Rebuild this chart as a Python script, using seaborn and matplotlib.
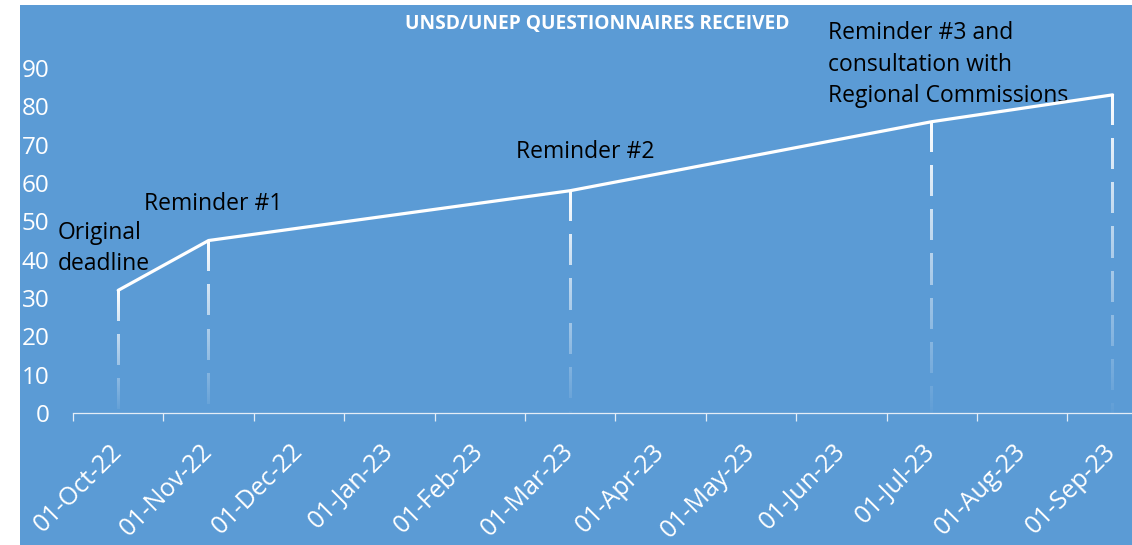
import matplotlib.pyplot as plt
import matplotlib.patches as mpatches
import numpy as np
import pandas as pd
import seaborn as sns

# --- data ---
MONTHS = [
    "01-Oct-22", "01-Nov-22", "01-Dec-22", "01-Jan-23", "01-Feb-23", "01-Mar-23",
    "01-Apr-23", "01-May-23", "01-Jun-23", "01-Jul-23", "01-Aug-23", "01-Sep-23",
]
EVENT_MONTHS = ["01-Oct-22", "01-Nov-22", "01-Mar-23", "01-Jul-23", "01-Sep-23"]
RECEIVED = [32, 45, 58, 76, 83]
EVENT_LABELS = [
    "Original\ndeadline",
    "Reminder #1",
    "Reminder #2",
    "Reminder #3 and\nconsultation with\nRegional Commissions",
    "",
]
Y_TICKS = [0, 10, 20, 30, 40, 50, 60, 70, 80, 90]
TITLE = "UNSD/UNEP QUESTIONNAIRES RECEIVED"

# --- layout / style ---
BG = "#5b9bd5"
AXIS_COL = "#e4edf7"
W, H, DPI = 1132, 545, 100
XLIM = (-0.5, -0.5 + 1059 / 90.4)
YLIM = (0, 408 / 3.833)
# label anchors (data coords, left / vertical centre)
LABEL_POS = [(-0.67, 42.9), (0.29, 54.5), (4.40, 68.1), (7.85, 90.9), (0, 0)]
DASH_ON, DASH_OFF = 31, 13  # pixels

sns.set_style("white")
plt.rcParams["font.family"] = ["Open Sans", "DejaVu Sans"]

df = pd.DataFrame({
    "month": EVENT_MONTHS,
    "pos": [MONTHS.index(m) for m in EVENT_MONTHS],
    "received": RECEIVED,
})

fig = plt.figure(figsize=(W / DPI, H / DPI), dpi=DPI)
fig.patch.set_facecolor("white")
fig.patches.append(
    mpatches.Rectangle((20 / W, 0), 1, 540 / H, transform=fig.transFigure,
                       facecolor=BG, edgecolor="none", zorder=-10)
)

ax = fig.add_axes([73 / W, 132 / H, 1059 / W, 408 / H])
ax.set_zorder(1)
ax.set_facecolor("none")
ax.set_xlim(*XLIM)
ax.set_ylim(*YLIM)

# main line
sns.lineplot(data=df, x="pos", y="received", color="white", lw=2.3, ax=ax,
             zorder=5, sort=False)
ax.set_xlim(*XLIM)
ax.set_ylim(*YLIM)

# faded dashed drop lines, drawn as thin gradient images
fig.canvas.draw()
px_y = ax.transData.transform((0, 1))[1] - ax.transData.transform((0, 0))[1]
px_x = ax.transData.transform((1, 0))[0] - ax.transData.transform((0, 0))[0]
half_w = 1.5 / px_x
for x, v in zip(df["pos"], df["received"]):
    length = v * px_y
    n = int(round(length))
    d = np.arange(n) + 0.5
    mask = (d % (DASH_ON + DASH_OFF)) < DASH_ON
    img = np.ones((n, 1, 4))
    img[:, 0, 3] = (1 - 0.97 * d / length) * mask
    ax.imshow(img, extent=[x - half_w, x + half_w, 0, v], origin="upper",
              aspect="auto", interpolation="nearest", zorder=4)

# annotations
for (lx, ly), text in zip(LABEL_POS, EVENT_LABELS):
    if text:
        ax.text(lx, ly, text, ha="left", va="center", fontsize=16.5,
                color="black", linespacing=1.43)

fig.text(597 / W, 1 - 24 / H, TITLE, ha="center", va="center", fontsize=13.8,
         fontweight="bold", color="white")

# axes styling
for side in ["top", "right", "left"]:
    ax.spines[side].set_visible(False)
ax.spines["bottom"].set_color(AXIS_COL)
ax.spines["bottom"].set_linewidth(0.9)

ax.set_xticks(range(len(MONTHS)))
ax.set_xticklabels(MONTHS, rotation=45, ha="right", va="center",
                   rotation_mode="anchor")
ax.set_xticks([i - 0.5 for i in range(len(MONTHS) + 1)], minor=True)
ax.tick_params(axis="x", which="major", length=0, pad=25, labelsize=18,
               labelcolor="white")
ax.tick_params(axis="x", which="minor", length=6, width=0.9, color=AXIS_COL,
               direction="out", bottom=True)
ax.set_yticks(Y_TICKS)
ax.tick_params(axis="y", length=0, pad=17, labelsize=17.5, labelcolor="white")
ax.set_xlabel("")
ax.set_ylabel("")
ax.grid(False)
ax.set_xlim(*XLIM)
ax.set_ylim(*YLIM)

fig.savefig("out.png", dpi=DPI, facecolor="white")
